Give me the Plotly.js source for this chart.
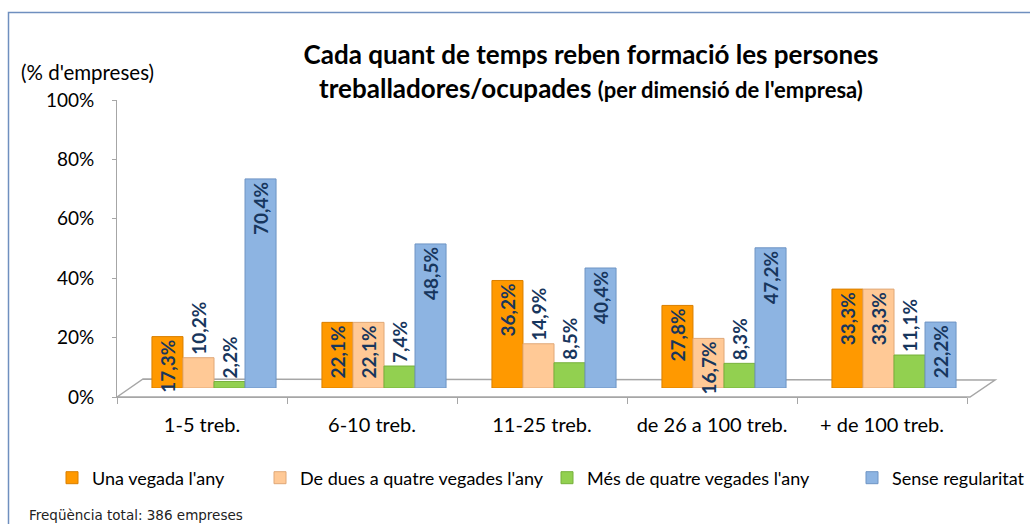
<!DOCTYPE html>
<html>
<head>
<meta charset="utf-8">
<script src="https://cdn.plot.ly/plotly-3.0.1.min.js"></script>
<style>html,body{margin:0;padding:0;background:#fff;}#chart{width:1030px;height:524px;}</style>
</head>
<body>
<div id="chart"></div>
<script>
// ---- data ----
const categories = ["1-5 treb.", "6-10 treb.", "11-25 treb.", "de 26 a 100 treb.", "+ de 100 treb."];
const seriesNames = ["Una vegada l'any", "De dues a quatre vegades l'any", "Més de quatre vegades l'any", "Sense regularitat"];
const unaVegada = [17.3, 22.1, 36.2, 27.8, 33.3];
const deDuesAQuatre = [10.2, 22.1, 14.9, 16.7, 33.3];
const mesDeQuatre = [2.2, 7.4, 8.5, 8.3, 11.1];
const senseRegularitat = [70.4, 48.5, 40.4, 47.2, 22.2];
const yTickVals = [0, 20, 40, 60, 80, 100];
const yTickText = ["0%", "20%", "40%", "60%", "80%", "100%"];

// ---- styling ----
const colors = ["#FF9900", "#FFC996", "#92D050", "#8DB4E2"];
const lineColors = ["#D97F00", "#E0A878", "#76B03A", "#6E94C4"];
const labelColor = "#17365D";
const FONT = "Lato, 'Liberation Sans', sans-serif";

const W = 1030, H = 524;
const L = 117, R = 51, T = 91, B = 127;
const pw = W - L - R, ph = H - T - B;
// pixel -> paper helpers for decoration shapes
const px = x => (x - L) / pw;
const py = y => (H - B - y) / ph;

function fmt(v) { return v.toFixed(1).replace('.', ',') + '%'; }

const legendIds = ['legend', 'legend2', 'legend3', 'legend4'];
const legendLeft = [52, 260, 547, 852];

const allSeries = [unaVegada, deDuesAQuatre, mesDeQuatre, senseRegularitat];
const lblFont = { family: FONT, size: 19, color: labelColor, weight: 'bold' };
const traces = allSeries.map((vals, i) => ({
  type: 'bar',
  name: seriesNames[i],
  legend: legendIds[i],
  x: categories,
  y: vals,
  xaxis: 'x2',
  yaxis: 'y2',
  marker: { color: colors[i], line: { color: lineColors[i], width: 1 } },
  text: vals.map(fmt),
  textposition: vals.map(v => v >= 16 ? 'inside' : 'outside'),
  insidetextanchor: 'end',
  constraintext: 'none',
  cliponaxis: false,
  textangle: -90,
  textfont: lblFont,
  insidetextfont: lblFont,
  outsidetextfont: lblFont,
  hoverinfo: 'skip'
}));

// invisible trace so the front (labelled) axes exist
traces.push({
  type: 'scatter', x: categories, y: [null, null, null, null, null],
  xaxis: 'x', yaxis: 'y', showlegend: false, hoverinfo: 'skip'
});

const legendCommon = i => ({
  orientation: 'h',
  xref: 'container', yref: 'container',
  x: legendLeft[i] / W, xanchor: 'left',
  y: 1 - 478 / H, yanchor: 'middle',
  font: { family: FONT, size: 18, color: '#000' },
  itemwidth: 30,
  bgcolor: 'rgba(0,0,0,0)'
});

const layout = {
  width: W, height: H,
  margin: { l: L, r: R, t: T, b: B },
  paper_bgcolor: '#ffffff',
  plot_bgcolor: 'rgba(0,0,0,0)',
  font: { family: FONT, size: 18, color: '#000' },
  barmode: 'group',
  bargap: 0.27,
  bargroupgap: 0,
  showlegend: true,
  title: {
    text: "<b>Cada quant de temps reben formació les persones<br>treballadores/ocupades <span style='font-size:22px'>(per dimensió de l'empresa)</span></b>",
    font: { family: FONT, size: 26, color: '#000' },
    xref: 'container', x: 591 / W, xanchor: 'center',
    yref: 'container', y: 1 - 64 / H, yanchor: 'middle'
  },
  xaxis: {
    domain: [0, 850 / pw],
    type: 'category',
    range: [-0.5, 4.5],
    tickson: 'boundaries',
    ticks: 'outside', ticklen: 6, tickcolor: '#A6A6A6',
    showline: true, linecolor: '#A6A6A6', linewidth: 1,
    showgrid: false, zeroline: false,
    ticklabelstandoff: 10,
    tickfont: { family: FONT, size: 20, color: '#000' },
    anchor: 'y'
  },
  yaxis: {
    domain: [0, 297 / ph],
    range: [0, 100],
    tickvals: yTickVals, ticktext: yTickText,
    ticks: 'outside', ticklen: 4, tickcolor: '#A6A6A6',
    showline: true, linecolor: '#A6A6A6', linewidth: 1,
    showgrid: false, zeroline: false,
    ticklabelstandoff: 14,
    tickfont: { family: FONT, size: 19, color: '#000' },
    anchor: 'x'
  },
  xaxis2: {
    domain: [12 / pw, 1],
    type: 'category', range: [-0.5, 4.5],
    visible: false, anchor: 'y2'
  },
  yaxis2: {
    domain: [9 / ph, 1],
    range: [0, 100],
    visible: false, anchor: 'x2'
  },
  legend: legendCommon(0),
  legend2: legendCommon(1),
  legend3: legendCommon(2),
  legend4: legendCommon(3),
  shapes: [
    // outer frame
    { type: 'rect', xref: 'paper', yref: 'paper', x0: px(8.5), x1: px(1040), y0: py(12.5), y1: py(540),
      line: { color: '#6F8FBF', width: 1.5 }, fillcolor: 'rgba(0,0,0,0)', layer: 'below' },
    // 3-D style floor
    { type: 'path', xref: 'paper', yref: 'paper', layer: 'below',
      path: `M ${px(117)} ${py(397)} L ${px(143)} ${py(379)} L ${px(995)} ${py(380)} L ${px(970)} ${py(397)} Z`,
      line: { color: '#A6A6A6', width: 1.5 }, fillcolor: 'rgba(0,0,0,0)' }
  ],
  annotations: [
    { text: "(% d'empreses)", xref: 'paper', yref: 'paper', x: px(19), y: py(72),
      xanchor: 'left', yanchor: 'middle', showarrow: false,
      font: { family: FONT, size: 20.5, color: '#000' } },
    { text: "Freqüència total: 386 empreses", xref: 'paper', yref: 'paper', x: px(27), y: py(515),
      xanchor: 'left', yanchor: 'middle', showarrow: false,
      font: { family: "'DejaVu Sans', sans-serif", size: 13.5, color: '#222' } }
  ]
};

Plotly.newPlot('chart', traces, layout, { displayModeBar: false, staticPlot: true });
</script>
</body>
</html>
